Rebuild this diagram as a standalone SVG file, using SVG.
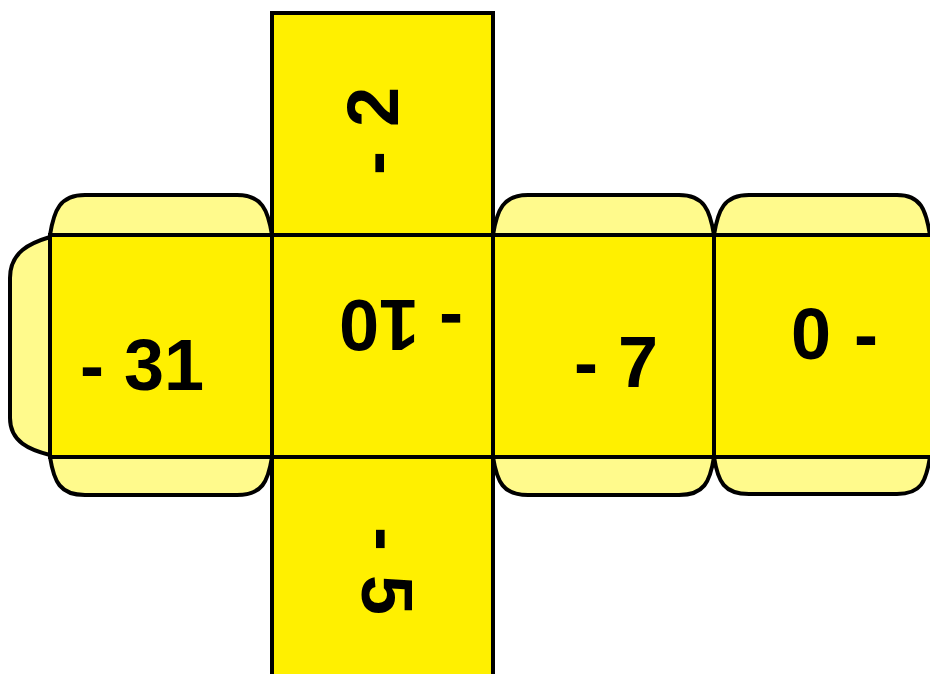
<svg xmlns="http://www.w3.org/2000/svg" width="930" height="674" viewBox="0 0 930 674">
<style>
.tab{fill:#FFFA8C;stroke:#000;stroke-width:4;stroke-linejoin:round}
.face{fill:#FFF000;stroke:#000;stroke-width:4}
.num{font-family:"Liberation Sans",Arial,sans-serif;font-weight:bold;font-size:72px;fill:#000}
</style>
<rect width="930" height="674" fill="#fff"/>
<g id="tabs">
<path id="tab-left" class="tab" d="M50,237 C30,243 10,252 10,278 L10,418 C10,442 30,450 50,455 Z"/>
<path id="tab-top-1" class="tab" d="M50,235 C54,210 60,195 85,195 L237,195 C262,195 268,210 272,235 Z"/>
<path id="tab-bot-1" class="tab" d="M50,457 C54,482 60,495 85,495 L237,495 C262,495 268,482 272,457 Z"/>
<path id="tab-top-3" class="tab" d="M493,235 C497,210 503,195 528,195 L679,195 C704,195 710,210 714,235 Z"/>
<path id="tab-bot-3" class="tab" d="M493,457 C497,482 503,495 528,495 L679,495 C704,495 710,482 714,457 Z"/>
<path id="tab-top-4" class="tab" d="M714,235 C718,210 724,195 749,195 L897,195 C921,195 926,210 930,235 Z"/>
<path id="tab-bot-4" class="tab" d="M714,457 C718,482 724,494 749,494 L897,494 C921,494 926,482 930,457 Z"/>
</g>
<g id="face-top"><rect class="face" x="272" y="13" width="221" height="222"/>
<text class="num" transform="translate(398,175) rotate(-90)">- <tspan dx="4">2</tspan></text></g>
<g id="face-left"><rect class="face" x="50" y="235" width="222" height="222"/>
<text class="num" x="80" y="390">- 31</text></g>
<g id="face-center"><rect class="face" x="272" y="235" width="221" height="222"/>
<text class="num" transform="translate(463,300) rotate(180)">- 10</text></g>
<g id="face-right"><rect class="face" x="493" y="235" width="221" height="222"/>
<text class="num" x="574" y="387">- 7</text></g>
<g id="face-far"><rect class="face" x="714" y="235" width="230" height="222"/>
<text class="num" x="791" y="359">0 <tspan dx="3">-</tspan></text></g>
<g id="face-bottom"><rect class="face" x="272" y="457" width="221" height="230"/>
<text class="num" transform="translate(362,527) rotate(90)">- <tspan dx="4">5</tspan></text></g>
<g id="connectors"/>
</svg>
